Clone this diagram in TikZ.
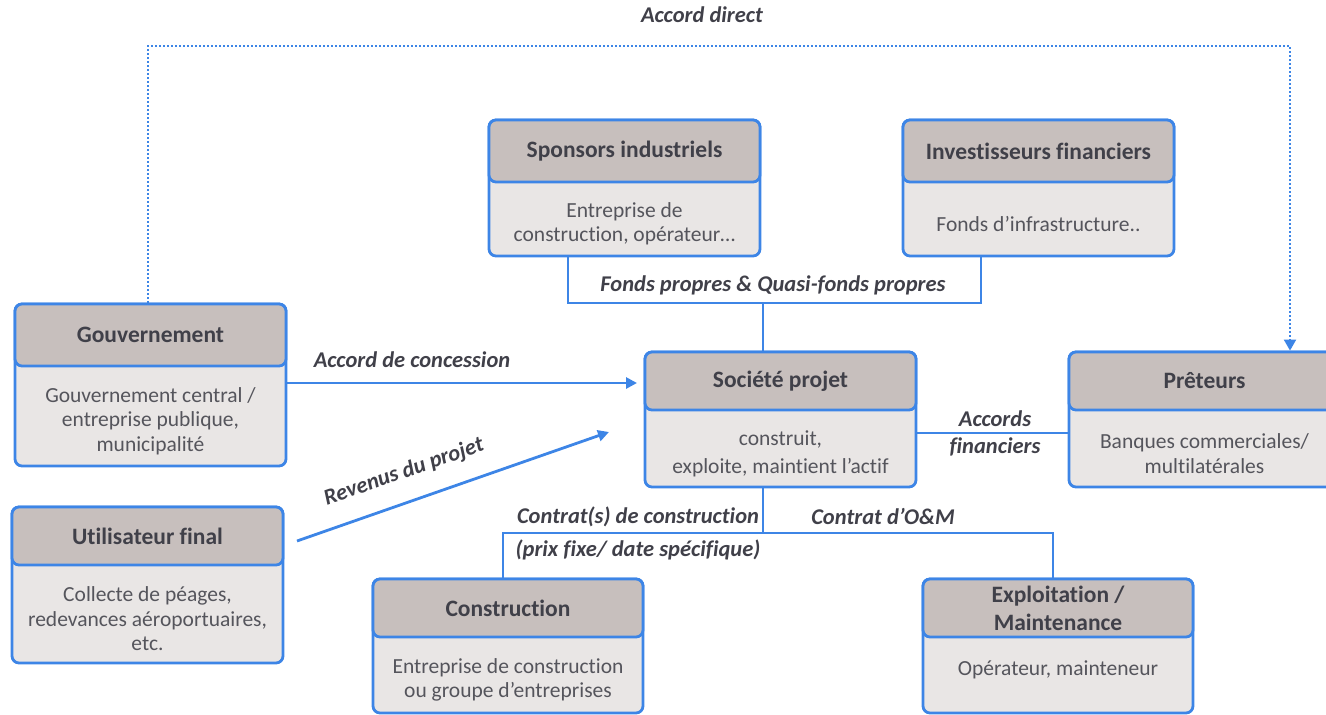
\documentclass[tikz,border=0pt]{standalone}
\usepackage{fontspec}
\setmainfont{Carlito}[Ligatures={NoCommon,NoContextual}]
\usetikzlibrary{arrows.meta}
\definecolor{bl}{HTML}{3D85E6}
\definecolor{hd}{HTML}{C7BFBD}
\definecolor{bd}{HTML}{E9E6E5}
\definecolor{tx}{HTML}{404049}
\definecolor{tb}{HTML}{55555C}
\tikzset{
 cardbox/.style={draw=bl, line width=2.8pt, fill=bd, rounded corners=7pt, inner sep=0pt},
 headbox/.style={draw=bl, line width=2.8pt, fill=hd, rounded corners=7pt, inner sep=0pt},
 headtext/.style={font=\fontsize{23.5}{28}\selectfont\bfseries, text=tx, align=center},
 bodytext/.style={font=\fontsize{21.5}{24.5}\selectfont, text=tb, align=center},
 conn/.style={draw=bl, line width=2.8pt},
 arr/.style={conn, -{Triangle[length=11pt,width=11pt]}},
 dotline/.style={draw=bl, line width=2pt, dash pattern=on 2pt off 2pt, -{Triangle[length=11pt,width=12pt]}},
 lab/.style={font=\fontsize{22.5}{27}\selectfont\bfseries\itshape, text=tx, align=center},
}
\newcommand\card[9][24.5]{%
 \node[cardbox, minimum width={(#5-#3)*1pt}, minimum height={(#6-#4)*1pt}] (#2) at ({(#3+#5)/2},{(#4+#6)/2}) {};
 \node[headbox, minimum width={(#5-#3)*1pt}, minimum height={(#7-#4)*1pt}] (#2h) at ({(#3+#5)/2},{(#4+#7)/2}) {};
 \node[headtext] (#2t) at (#2h) {#8};
 \node[bodytext, font=\fontsize{21.5}{#1}\selectfont] (#2b) at ({(#3+#5)/2},{(#7+#6)/2+5}) {#9};
}
\begin{document}
\begin{tikzpicture}[x=1pt,y=-1pt]
\useasboundingbox (0,0) rectangle (1326,715);
\coordinate (fpL) at (568,303);
\coordinate (fpR) at (981,303);
\coordinate (fpM) at (763,303);
\coordinate (concEnd) at (637,383);
\coordinate (revS) at (297,541);
\coordinate (revE) at (609,432);
\coordinate (af) at (916,433);
\coordinate (bm) at (763,533);
\coordinate (cL) at (503,533);
\coordinate (cR) at (1053,533);
\coordinate (adL) at (148,46);
\coordinate (adR) at (1290,46);

\card{spons}{489}{120}{760}{256}{182}{Sponsors industriels}{Entreprise de\\construction, opérateur…}
\card{inv}{903}{120}{1174}{256}{182}{Investisseurs financiers}{Fonds d’infrastructure..}
\card{gov}{15}{304}{286}{466}{366}{Gouvernement}{Gouvernement central /\\entreprise publique,\\municipalité}
\card[28]{soc}{645}{352}{916}{487}{410}{Société projet}{construit,\\exploite, maintient l’actif}
\card{pret}{1069}{352}{1340}{487}{410}{Prêteurs}{Banques commerciales/\\multilatérales}
\card{user}{12}{507}{283}{663}{565}{Utilisateur final}{Collecte de péages,\\redevances aéroportuaires,\\etc.}
\card{cons}{373}{579}{643}{713}{637}{Construction}{Entreprise de construction\\ou groupe d’entreprises}
\card{expl}{923}{579}{1193}{713}{637}{Exploitation /\\Maintenance}{Opérateur, mainteneur\\\mbox{}}

\draw[conn] (fpL |- spons.south) -- (fpL) -- (fpR) -- (fpR |- inv.south);
\draw[conn] (fpM) -- (fpM |- soc.north);
\draw[arr] (gov.east |- concEnd) -- (concEnd);
\draw[arr] (revS) -- (revE);
\draw[conn] (soc.east |- af) -- (pret.west |- af);
\draw[conn] (bm |- soc.south) -- (bm);
\draw[conn] (cL |- cons.north) -- (cL) -- (cR) -- (cR |- expl.north);
\draw[dotline] (adL |- gov.north) -- (adL) -- (adR) -- (adR |- pret.north);

\node[lab] (lAD) at (702,15) {Accord direct};
\node[lab] (lFP) at (773,285) {Fonds propres \& Quasi-fonds propres};
\node[lab] (lAC) at (412,360) {Accord de concession};
\node[lab] (lAF) at (995,433) {Accords\\financiers};
\node[lab] (lCC) at (638,517) {Contrat(s) de construction};
\node[lab] (lPF) at (638,550) {(prix fixe/ date spécifique)};
\node[lab] (lOM) at (883,516) {Contrat d’O\&M};
\node[lab, rotate=19.3] (lRV) at (404,472) {Revenus du projet};
\end{tikzpicture}
\end{document}
